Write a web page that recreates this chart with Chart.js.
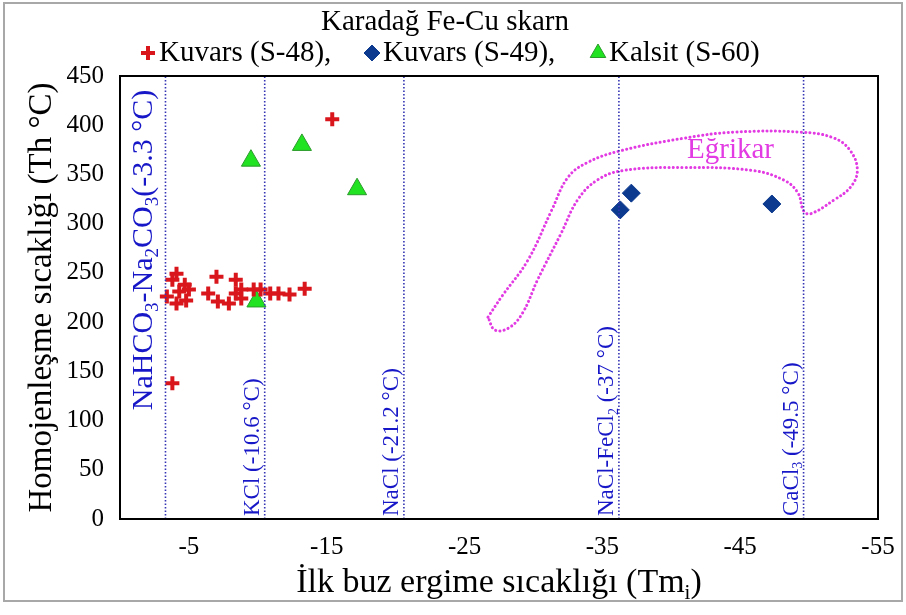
<!DOCTYPE html>
<html>
<head>
<meta charset="utf-8">
<script src="https://cdn.jsdelivr.net/npm/chart.js@4"></script>
<style>
  body { margin: 0; background: #fff; }
</style>
</head>
<body>
<canvas id="Skarn_Chart" width="906" height="615"></canvas>
<script>
// ---- data ----
const s48X = [-4.1, -3.8, -4.7, -4.3, -3.4, -4.1, -4.8, -5.0, -7.0, -8.4, -6.4, -7.1, -7.9, -8.4, -8.8, -8.8, -9.7, -10.2, -10.9, -11.5, -12.3, -13.4, -3.8, -15.4];
const s48Y = [249, 243, 238, 231, 226, 219, 222, 233, 246, 243, 229, 221, 219, 229, 233, 224, 233, 233, 229, 229, 228, 234, 138, 406];

const s49X = [-36.3, -37.1, -47.3];
const s49Y = [314, 331, 320];

const s60X = [-9.5, -13.2, -17.2, -9.9];
const s60Y = [364, 380, 335, 221];

// eutectic lines (position on the x axis) and their labels
const solX = [-3.3, -10.5, -20.6, -36.2, -49.6];
const solLabels = [
    [['NaHCO', ''], ['3', 'sub'], ['-Na', ''], ['2', 'sub'], ['CO', ''], ['3', 'sub'], ['(-3.3 \u00B0C)', '']],
    [['KCl (-10.6 \u00B0C)', '']],
    [['NaCl (-21.2 \u00B0C)', '']],
    [['NaCl-FeCl', ''], ['2', 'sub'], [' (-37 \u00B0C)', '']],
    [['CaCl', ''], ['3', 'sub'], [' (-49.5 \u00B0C)', '']]
];

// Egrikar field outline
const egrikarX = [-26.7, -27.7, -29.6, -31.3, -32.5, -33.9, -36.3, -41.0, -44.6, -49.4, -51.8, -53.0, -53.5, -53.0, -51.8, -50.1, -49.6, -49.2, -48.2, -45.9, -41.0, -36.5, -34.6, -33.2, -32.0, -30.3, -29.2, -28.2, -27.2, -26.7];
const egrikarY = [205, 226, 263, 313, 347, 362, 374, 387, 393, 393, 387, 374, 354, 337, 324, 310, 313, 331, 344, 354, 357, 354, 344, 324, 290, 243, 209, 194, 192, 205];
const egrikarLabel = { text: 'E\u011Frikar', x: -44.3, y: 374 };

const xTicks = [-5, -15, -25, -35, -45, -55];
const yTicks = [0, 50, 100, 150, 200, 250, 300, 350, 400, 450];

const chartTitle = 'Karada\u011F Fe-Cu skarn';
const seriesNames = ['Kuvars (S-48),', 'Kuvars (S-49),', 'Kalsit (S-60)'];
const xTitle = [['\u0130lk buz ergime s\u0131cakl\u0131\u011F\u0131 (Tm', ''], ['i', 'sub'], [')', '']];
const yTitle = [['Homojenle\u015Fme s\u0131cakl\u0131\u011F\u0131 (Th \u00B0C)', '']];

// ---- styles ----
const SERIF = '"Liberation Serif", serif';
const BLUE_TXT = '#1717c8';
const LINE_BLUE = '#3434b4';
const PINK = '#e33be3';

const pts = (xs, ys) => xs.map((x, i) => ({ x: x, y: ys[i] }));

const markerStyles = [
    { pointStyle: 'cross', radius: 7, borderWidth: 4, borderColor: '#d9161c', backgroundColor: '#d9161c' },
    { pointStyle: 'rectRot', radius: 9, borderWidth: 1, borderColor: '#0c3a8e', backgroundColor: '#0c3a8e' },
    { pointStyle: 'triangle', radius: 11, borderWidth: 1, borderColor: '#2a9a2a', backgroundColor: '#22e322' }
];

const datasets = [];

solX.forEach(v => {
    datasets.push({
        data: [{ x: v, y: 0 }, { x: v, y: 450 }],
        showLine: true,
        pointRadius: 0,
        borderColor: LINE_BLUE,
        borderWidth: 1.6,
        borderDash: [1.5, 2]
    });
});

datasets.push({
    data: pts(egrikarX, egrikarY),
    showLine: true,
    tension: 0.4,
    pointRadius: 0,
    borderColor: PINK,
    borderWidth: 3,
    borderDash: [0.1, 4.2],
    borderCapStyle: 'round'
});

[pts(s48X, s48Y), pts(s49X, s49Y), pts(s60X, s60Y)].forEach((d, i) => {
    const m = markerStyles[i];
    datasets.push({
        label: seriesNames[i],
        data: d,
        showLine: false,
        pointStyle: m.pointStyle,
        pointRadius: m.radius,
        pointHoverRadius: m.radius,
        pointBorderWidth: m.borderWidth,
        borderColor: m.borderColor,
        backgroundColor: m.backgroundColor
    });
});

// plain text helper
function putText(ctx, text, x, y, size, align, color) {
    ctx.save();
    ctx.font = size + 'px ' + SERIF;
    ctx.fillStyle = color || '#000';
    ctx.textAlign = align;
    ctx.textBaseline = 'middle';
    ctx.fillText(text, x, y);
    ctx.restore();
}

// draw text made of pieces, some of them subscript
function richWidth(ctx, parts, size) {
    let w = 0;
    parts.forEach(p => {
        ctx.font = (p[1] ? Math.round(size * 0.62) : size) + 'px ' + SERIF;
        w += ctx.measureText(p[0]).width;
    });
    return w;
}

function drawRich(ctx, parts, x, y, size, align, rotate) {
    ctx.save();
    ctx.translate(x, y);
    if (rotate) ctx.rotate(-Math.PI / 2);
    ctx.textBaseline = 'alphabetic';
    ctx.textAlign = 'left';
    const w = richWidth(ctx, parts, size);
    let cx = align === 'center' ? -w / 2 : (align === 'right' ? -w : 0);
    parts.forEach(p => {
        const sub = p[1] === 'sub';
        ctx.font = (sub ? Math.round(size * 0.62) : size) + 'px ' + SERIF;
        ctx.fillText(p[0], cx, sub ? size * 0.2 : 0);
        cx += ctx.measureText(p[0]).width;
    });
    ctx.restore();
}

const decorations = {
    id: 'decorations',
    afterDraw(chart) {
        const ctx = chart.ctx;
        const area = chart.chartArea;
        const xs = chart.scales.x;
        const ys = chart.scales.y;

        // plot frame
        ctx.save();
        ctx.strokeStyle = '#000';
        ctx.lineWidth = 2;
        ctx.strokeRect(area.left, area.top, area.right - area.left, area.bottom - area.top);

        // outer picture frame
        ctx.strokeStyle = '#a8a8a8';
        ctx.lineWidth = 2;
        ctx.strokeRect(4, 3, 898, 598);
        ctx.restore();

        // tick labels, placed by the scales
        xs.ticks.forEach(t => putText(ctx, String(t.value), xs.getPixelForValue(t.value), area.bottom + 28, 25, 'center'));
        ys.ticks.forEach(t => putText(ctx, String(t.value), area.left - 16, ys.getPixelForValue(t.value), 25, 'right'));

        // labels on the eutectic lines
        ctx.fillStyle = BLUE_TXT;
        solLabels.forEach((parts, i) => {
            const px = xs.getPixelForValue(solX[i]);
            if (i === 0) {
                drawRich(ctx, parts, px - 13, 250, 30, 'center', true);
            } else {
                drawRich(ctx, parts, px - 6, area.bottom - 3, 23, 'left', true);
            }
        });

        // Egrikar label
        putText(ctx, egrikarLabel.text, xs.getPixelForValue(egrikarLabel.x), ys.getPixelForValue(egrikarLabel.y), 29, 'center', PINK);

        // title + legend
        putText(ctx, chartTitle, 445, 22, 29, 'center');

        const legX = [148, 372, 598];
        seriesNames.forEach((name, i) => putText(ctx, name, legX[i] + 11, 53, 29, 'left'));
        markerStyles.forEach((m, i) => {
            ctx.save();
            ctx.fillStyle = m.backgroundColor;
            ctx.strokeStyle = m.borderColor;
            ctx.lineWidth = m.pointStyle === 'cross' ? 4 : 1;
            Chart.helpers.drawPoint(ctx, {
                pointStyle: m.pointStyle,
                radius: m.pointStyle === 'triangle' ? 9 : (m.pointStyle === 'rectRot' ? 8 : 7),
                borderWidth: ctx.lineWidth,
                rotation: 0
            }, legX[i], 53);
            ctx.restore();
        });

        // axis titles
        ctx.fillStyle = '#000';
        drawRich(ctx, xTitle, (area.left + area.right) / 2, 592, 34, 'center', false);
        drawRich(ctx, yTitle, 51, (area.top + area.bottom) / 2, 33, 'center', true);
    }
};

function buildChart() {
    const ctx = document.getElementById('Skarn_Chart').getContext('2d');

    new Chart(ctx, {
        type: 'scatter',
        data: { datasets: datasets },
        options: {
            responsive: false,
            animation: false,
            devicePixelRatio: 1,
            layout: { padding: { left: 0, right: 28, top: 76, bottom: 0 } },
            plugins: {
                legend: { display: false },
                title: { display: false },
                tooltip: { enabled: false }
            },
            scales: {
                x: {
                    type: 'linear',
                    reverse: true,
                    min: -55,
                    max: 0,
                    grid: { display: false, drawTicks: false },
                    border: { display: true, color: '#000', width: 2 },
                    ticks: { display: false },
                    afterBuildTicks: s => { s.ticks = xTicks.map(v => ({ value: v })); },
                    afterFit: s => { s.height = 96; }
                },
                y: {
                    min: 0,
                    max: 450,
                    grid: { display: false, drawTicks: false },
                    border: { display: true, color: '#000', width: 2 },
                    ticks: { display: false },
                    afterBuildTicks: s => { s.ticks = yTicks.map(v => ({ value: v })); },
                    afterFit: s => { s.width = 120; }
                }
            }
        },
        plugins: [decorations]
    });
}

// make sure the serif face is ready before drawing on the canvas
Promise.all([
    document.fonts.load('25px "Liberation Serif"'),
    document.fonts.load('29px "Liberation Serif"')
]).then(buildChart, buildChart);
</script>
</body>
</html>
